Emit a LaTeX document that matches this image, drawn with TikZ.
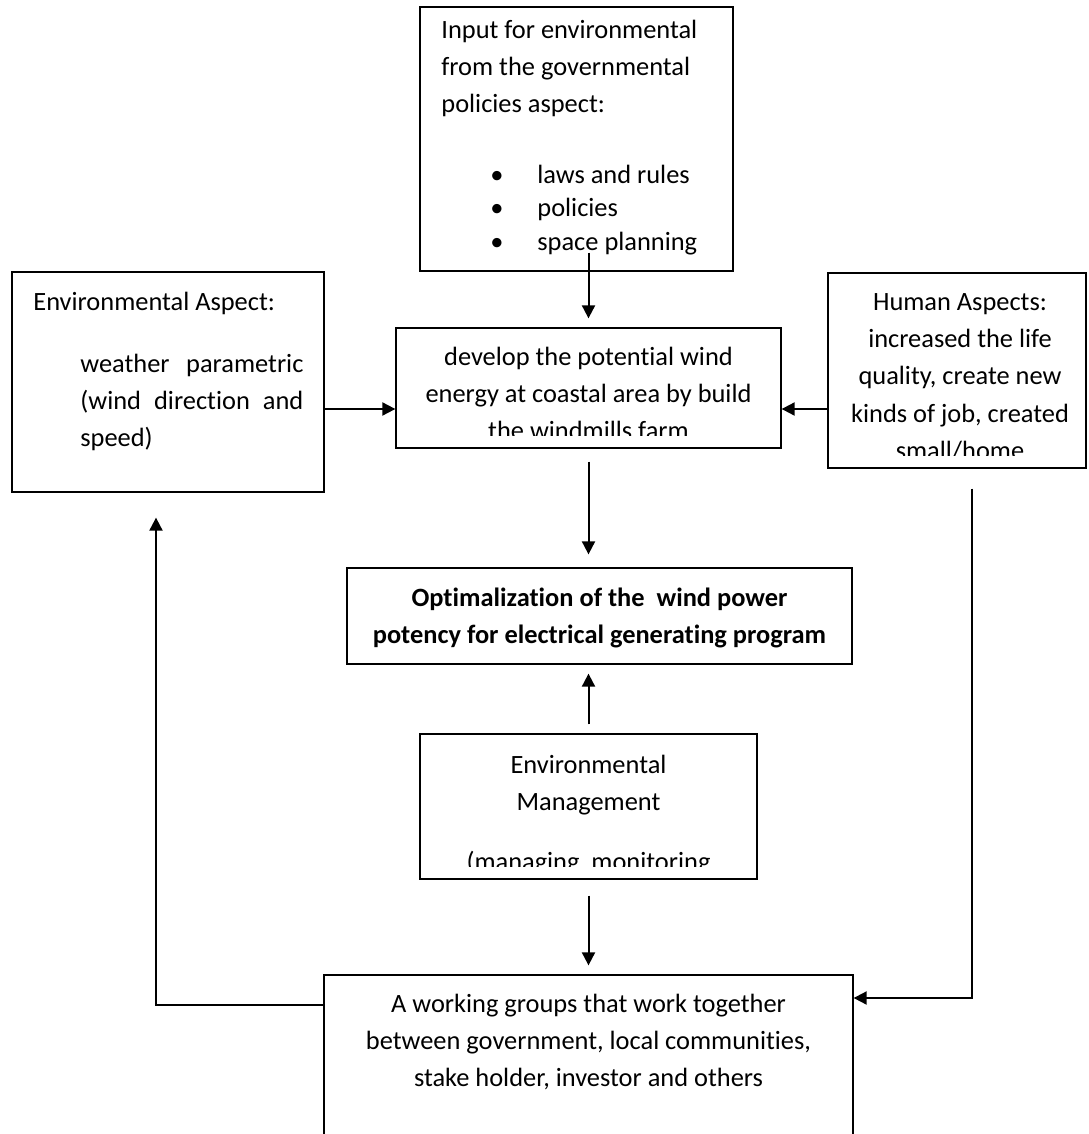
\documentclass[tikz,border=0pt]{standalone}
\usepackage{fontspec}
\setmainfont{Carlito}[Ligatures={NoCommon}]
\usetikzlibrary{arrows.meta}

\begin{document}
\begin{tikzpicture}[x=0.5pt, y=-0.5pt,
        box/.style={draw, line width=0.65pt, inner sep=0pt},
        txt/.style={inner sep=0pt, font=\fontsize{13.2}{18.6}\selectfont},
        arr/.style={-{Triangle[length=6.5pt, width=6.5pt]}, line width=1pt}]
        % Rahmen
        \clip (0,0) rectangle (1088,1134);
        \fill[white] (0,0) rectangle (1088,1134);

        % Kästen: Name / Mitte x / Mitte y / Breite / Höhe
        \foreach \n/\x/\y/\w/\h in {
            pol/576.5/139/156.5/132,
            envasp/168/382/156/110,
            cen/588.5/388/192.5/60,
            hum/957/370.5/129/97.5,
            opt/599.5/616/252.5/48,
            mgt/588.5/806.5/168.5/72.5,
            wrk/588.5/1067.5/264.5/92.5}
        {
            \node[box, minimum width=\w pt, minimum height=\h pt] (\n) at (\x,\y) {};
        }

        % Texte
        \node[txt, anchor=north west, align=left] (poltxt) at (441,12)
            {\strut Input for environmental\\from the governmental\\policies aspect:};
        \node[txt, anchor=north west, align=left, font=\fontsize{13.2}{16.75}\selectfont] (pollist) at (490,159.5)
            {\strut\makebox[23.5pt][l]{\textbullet}laws and rules\\
             \makebox[23.5pt][l]{\textbullet}policies\\
             \makebox[23.5pt][l]{\textbullet}space planning};
        \node[txt, anchor=north west] (envtitle) at (33,284) {\strut Environmental Aspect:};
        \node[txt, anchor=north west, text width=111.5pt, align=left] (envbody) at (80,346)
            {\strut weather\hfill parametric\\(wind\hfill direction\hfill and\\speed)};
        \begin{scope}
            \clip (cen.north west) rectangle ([yshift=6.5pt]cen.south east);
            \node[txt, anchor=north, align=center] (centxt) at (588.5,339)
                {\strut develop the potential wind\\energy at coastal area by build\\the windmills farm};
        \end{scope}
        \begin{scope}
            \clip (hum.north west) rectangle ([yshift=6.5pt]hum.south east);
            \node[txt, anchor=north, align=center] (humtxt) at (960,284)
                {\strut Human Aspects:\\increased the life\\quality, create new\\kinds of job, created\\small/home};
        \end{scope}
        \node[txt, anchor=north, align=center, font=\bfseries\fontsize{13.2}{18.6}\selectfont] (opttxt) at (599.5,580)
            {\strut Optimalization of the\ \ wind power\\potency for electrical generating program};
        \begin{scope}
            \clip (mgt.north west) rectangle ([yshift=6.5pt]mgt.south east);
            \node[txt, anchor=north, align=center] (mgttxt) at (588.5,747)
                {\strut Environmental\\Management\\[11.3pt](managing\ \ monitoring};
        \end{scope}
        \node[txt, anchor=north, align=center] (wrktxt) at (588.5,986)
            {\strut A working groups that work together\\between government, local communities,\\stake holder, investor and others};

        % Pfeile
        \coordinate (jin) at ([yshift=-10.5pt]cen.west);
        \draw[arr, shorten <=-9.5pt, shorten >=4.5pt] (cen.north |- pol.south) -- (cen.north);
        \draw[arr] (envasp.east |- jin) -- (jin);
        \draw[arr] (hum.west |- jin) -- (cen.east |- jin);
        \draw[arr, shorten <=6.5pt, shorten >=6.5pt] (cen.south) -- (cen.south |- opt.north);
        \draw[arr, shorten <=4.5pt, shorten >=4.5pt] (mgt.north) -- (mgt.north |- opt.south);
        \draw[arr, shorten <=8pt, shorten >=4.5pt] (mgt.south) -- (mgt.south |- wrk.north);

        % Rückkopplung
        \coordinate (fbl) at (156,1005);
        \coordinate (fbr) at (972,998);
        \draw[arr, shorten >=12.5pt] (wrk.west |- fbl) -- (fbl) -- (fbl |- envasp.south);
        \draw[arr, shorten <=10pt] (fbr |- hum.south) -- (fbr) -- (wrk.east |- fbr);
\end{tikzpicture}
\end{document}
